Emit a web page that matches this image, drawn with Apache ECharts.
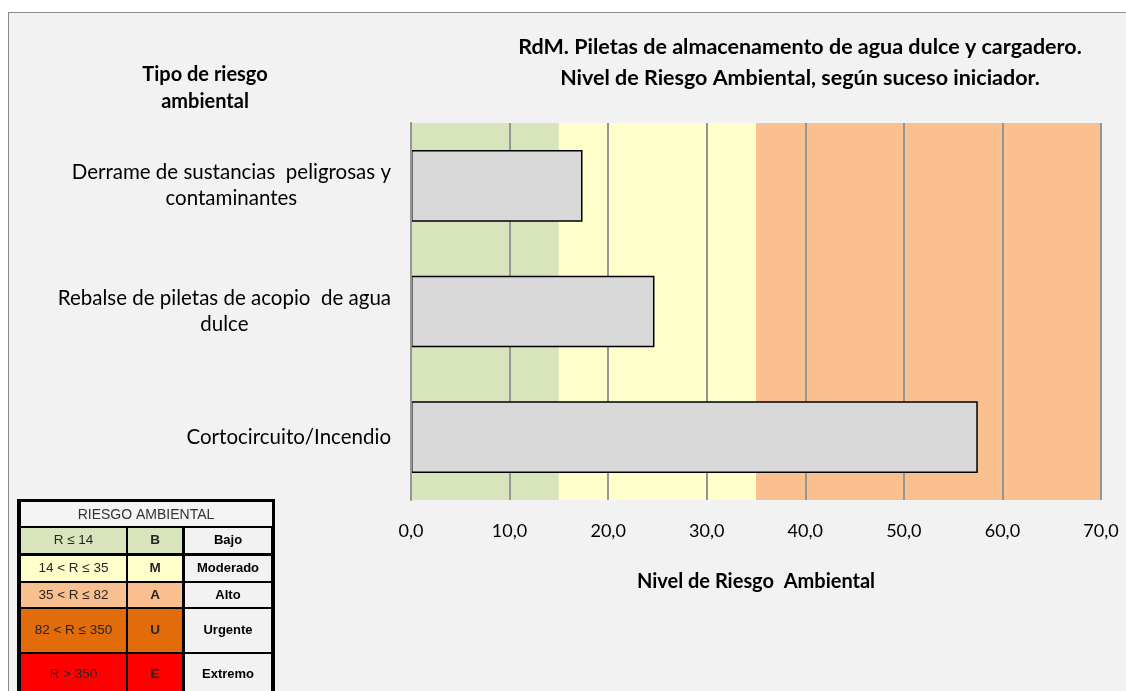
<!DOCTYPE html>
<html>
<head>
<meta charset="utf-8">
<script src="https://cdn.jsdelivr.net/npm/echarts@6/dist/echarts.min.js"></script>
<style>
  html, body { margin: 0; padding: 0; background: #fff; }
  #frame { position: absolute; left: 8px; top: 12px; width: 1130px; height: 700px;
           background: #f2f2f2; border: 1px solid #8a8a8a; }
  #chart { position: absolute; left: 0; top: 0; width: 1126px; height: 691px; }
</style>
</head>
<body>
<div id="frame"></div>
<div id="chart"></div>
<script>
var categories = ['Derrame de sustancias  peligrosas y\ncontaminantes', 'Rebalse de piletas de acopio  de agua\ndulce', 'Cortocircuito/Incendio'];
var values = [17.4, 24.7, 57.5];

// risk bands behind the bars
var bandLimits = [0, 15, 35, 70];
var bandColors = ['#d8e4bc', '#ffffcc', '#fac090'];

// legend table
var legendRanges = ['R ≤ 14', '14 < R ≤ 35', '35 < R ≤ 82', '82 < R ≤ 350', 'R > 350'];
var legendCodes = ['B', 'M', 'A', 'U', 'E'];
var legendLevels = ['Bajo', 'Moderado', 'Alto', 'Urgente', 'Extremo'];
var legendColors = ['#d8e4bc', '#ffffcc', '#fabf8f', '#e26b0a', '#ff0000'];

var FONT = 'Lato';

var bands = [];
for (var i = 0; i < bandColors.length; i++) {
  bands.push([{ xAxis: bandLimits[i], itemStyle: { color: bandColors[i] } }, { xAxis: bandLimits[i + 1] }]);
}

// legend table drawn with graphic elements
var rowTop = [528, 556, 583, 609, 654];
var rowH = [25, 25, 24, 43, 40];
var cols = [[21, 105], [128, 54], [185, 86]];
var table = [
  { type: 'rect', shape: { x: 17, y: 499, width: 258, height: 200 }, style: { fill: '#000' } },
  { type: 'rect', shape: { x: 21, y: 502, width: 251, height: 24 }, style: { fill: '#f4f4f4' } },
  { type: 'text', x: 146, y: 515, style: { text: 'RIESGO AMBIENTAL', font: '14px "Liberation Sans"', fill: '#333', align: 'center', verticalAlign: 'middle' } }
];
for (var r = 0; r < legendRanges.length; r++) {
  var texts = [legendRanges[r], legendCodes[r], legendLevels[r]];
  for (var c = 0; c < 3; c++) {
    var fill = c < 2 ? legendColors[r] : '#f2f2f2';
    table.push({ type: 'rect', shape: { x: cols[c][0], y: rowTop[r], width: cols[c][1], height: rowH[r] }, style: { fill: fill } });
    table.push({ type: 'text', x: cols[c][0] + cols[c][1] / 2, y: rowTop[r] + rowH[r] / 2,
      style: { text: texts[c], font: (c === 0 ? '' : 'bold ') + (c === 2 ? '13px' : '13.5px') + ' "Liberation Sans"',
               fill: c === 2 ? '#000' : '#262626', align: 'center', verticalAlign: 'middle' } });
  }
}

var chart = echarts.init(document.getElementById('chart'));
var option = {
  backgroundColor: 'transparent',
  animation: false,
  title: [{
    text: 'RdM. Piletas de almacenamento de agua dulce y cargadero.\nNivel de Riesgo Ambiental, según suceso iniciador.',
    left: 800, top: 32, padding: 0, textAlign: 'center',
    textStyle: { fontFamily: FONT, fontSize: 21.5, fontWeight: 'bold', color: '#000', lineHeight: 31 }
  }, {
    text: 'Tipo de riesgo\nambiental',
    left: 205, top: 61, padding: 0, textAlign: 'center',
    textStyle: { fontFamily: FONT, fontSize: 20, fontWeight: 'bold', color: '#000', lineHeight: 27 }
  }],
  grid: { left: 411, right: 25, top: 123, bottom: 191, containLabel: false },
  xAxis: {
    type: 'value', min: 0, max: 70, interval: 10, z: 1,
    name: 'Nivel de Riesgo  Ambiental', nameLocation: 'middle', nameGap: 72,
    nameTextStyle: { fontFamily: FONT, fontSize: 20, fontWeight: 'bold', color: '#000' },
    axisLine: { show: false }, axisTick: { show: false },
    axisLabel: { fontFamily: FONT, fontSize: 18, color: '#000', margin: 22,
      formatter: function (v) { return v.toFixed(1).replace('.', ','); } },
    splitLine: { show: true, lineStyle: { color: '#959595', width: 2 } }
  },
  yAxis: {
    type: 'category', data: categories, inverse: true, z: 3,
    axisLine: { show: true, lineStyle: { color: '#959595', width: 2 } },
    axisTick: { show: false },
    axisLabel: { margin: 20, align: 'right',
      formatter: function (v) { return v.split('\n').map(function (l) { return '{c|' + l + '}'; }).join('\n'); },
      rich: { c: { fontFamily: FONT, fontSize: 20.5, color: '#000', align: 'center', lineHeight: 26 } } }
  },
  series: [{
    type: 'line', data: [], z: 0, silent: true,
    markArea: { silent: true, z: 0, data: bands }
  }, {
    type: 'bar', data: values, z: 2, barWidth: '57%',
    itemStyle: { color: '#d9d9d9', borderColor: '#000', borderWidth: 1.5 }
  }],
  graphic: table
};
chart.setOption(option);
</script>
</body>
</html>
